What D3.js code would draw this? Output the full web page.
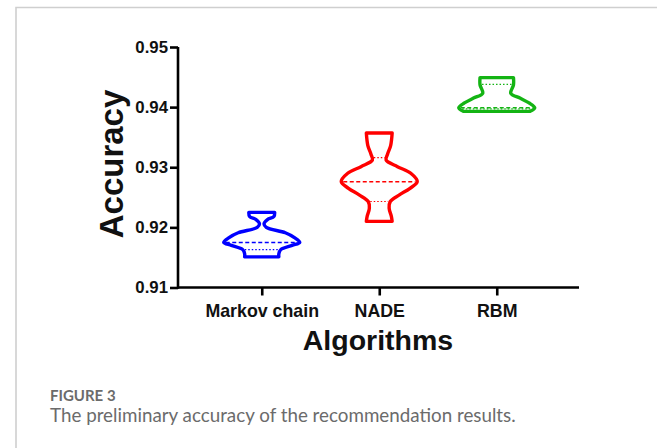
<!DOCTYPE html>
<html>
<head>
<meta charset="utf-8">
<script src="https://cdn.jsdelivr.net/npm/d3@7"></script>
<style>
  html, body { margin: 0; padding: 0; background: #fff; }
  svg { display: block; }
</style>
</head>
<body>
<svg id="chart" width="657" height="448"></svg>
<script>
// Algorithms compared
const algorithms = ["Markov chain", "NADE", "RBM"];
const colors = ["#0000ff", "#ff0000", "#14b414"];

// Density profiles (accuracy level, relative density 0..1), bottom to top
const markovProfile = [
  [0.9151, 0.45], [0.9156, 0.45], [0.9163, 0.50], [0.9170, 0.80], [0.9175, 1.00],
  [0.9183, 0.86], [0.9191, 0.62], [0.9200, 0.12], [0.9206, 0.06], [0.9213, 0.15],
  [0.9218, 0.32], [0.9225, 0.34]
];
const nadeProfile = [
  [0.9210, 0.34], [0.9218, 0.32], [0.9232, 0.26], [0.9243, 0.29], [0.9254, 0.53],
  [0.9265, 0.81], [0.9276, 1.00], [0.9290, 0.83], [0.9301, 0.48], [0.9312, 0.18],
  [0.9322, 0.22], [0.9336, 0.30], [0.9357, 0.34]
];
const rbmProfile = [
  [0.9393, 0.88], [0.9399, 1.00], [0.9407, 0.85], [0.9415, 0.61], [0.9423, 0.37],
  [0.9437, 0.44], [0.9449, 0.44]
];
const profiles = [markovProfile, nadeProfile, rbmProfile];

// Summary lines drawn inside each violin
const medians = [0.9175, 0.9276, 0.9399];
const lowerQuartiles = [0.9163, 0.9243, 0.9397];
const upperQuartiles = [null, 0.9316, 0.9438];

// Axis ticks
const yTicks = [0.91, 0.92, 0.93, 0.94, 0.95];

const svg = d3.select("#chart");

// Panel frame
svg.append("path")
  .attr("d", "M16,448 V7.5 H657")
  .attr("fill", "none")
  .attr("stroke", "#cfcfcf")
  .attr("stroke-width", 1.6);

const y = d3.scaleLinear().domain([0.91, 0.95]).range([287.5, 47]);
const x = d3.scalePoint().domain(algorithms).range([179.5, 579]).padding(0.7);
const halfWidth = d3.scaleLinear().domain([0, 1]).range([0, 38]);

const axisFont = "'Liberation Sans', Arial, sans-serif";

// Y axis
const yAxis = svg.append("g")
  .attr("transform", "translate(178,0)")
  .call(d3.axisLeft(y).tickValues(yTicks).tickFormat(d3.format(".2f")).tickSize(8).tickSizeOuter(0).tickPadding(2));

// X axis
const xAxis = svg.append("g")
  .attr("transform", "translate(0,287.5)")
  .call(d3.axisBottom(x).tickSize(8).tickSizeOuter(0).tickPadding(9));

[yAxis, xAxis].forEach(g => {
  g.select(".domain").attr("stroke", "#000").attr("stroke-width", 2.6);
  g.selectAll(".tick line").attr("stroke", "#000").attr("stroke-width", 2.6);
  g.selectAll(".tick text")
    .attr("fill", "#111")
    .style("font-family", axisFont)
    .style("font-weight", "bold")
    .style("font-size", "16.8px");
});
xAxis.selectAll(".tick text").style("font-size", "17.8px");
xAxis.select(".domain").attr("d", "M178,0H579");
yAxis.select(".domain").attr("d", "M0,288.8V47");

// Axis titles
svg.append("text")
  .attr("transform", "translate(123,164) rotate(-90)")
  .attr("text-anchor", "middle")
  .style("font-family", axisFont)
  .style("font-weight", "bold")
  .style("font-size", "33px")
  .attr("fill", "#111")
  .text("Accuracy");

svg.append("text")
  .attr("x", 378)
  .attr("y", 350)
  .attr("text-anchor", "middle")
  .style("font-family", axisFont)
  .style("font-weight", "bold")
  .style("font-size", "28.5px")
  .attr("fill", "#111")
  .text("Algorithms");

// Width of a violin at a given accuracy level
function widthAt(profile, v) {
  for (let i = 0; i < profile.length - 1; i++) {
    const [v0, d0] = profile[i], [v1, d1] = profile[i + 1];
    if (v >= v0 && v <= v1) return d0 + (d1 - d0) * (v - v0) / (v1 - v0);
  }
  return profile[profile.length - 1][1];
}

const violins = svg.append("g");
algorithms.forEach((name, i) => {
  const cx = x(name);
  const prof = profiles[i];
  const area = d3.area()
    .y(d => y(d[0]))
    .x0(d => cx - halfWidth(d[1]))
    .x1(d => cx + halfWidth(d[1]))
    .curve(d3.curveCatmullRom.alpha(0.5));

  const g = violins.append("g");

  const hline = (v, dash, sw) => {
    if (v == null) return;
    const hw = halfWidth(widthAt(prof, v)) - 2;
    g.append("line")
      .attr("x1", cx - hw).attr("x2", cx + hw)
      .attr("y1", y(v)).attr("y2", y(v))
      .attr("stroke", colors[i])
      .attr("stroke-width", sw)
      .attr("stroke-dasharray", dash);
  };
  hline(lowerQuartiles[i], "1.5,2", 1.2);
  hline(upperQuartiles[i], "1.5,2", 1.2);
  hline(medians[i], "4,2.5", 1.5);

  g.append("path")
    .attr("d", area(prof))
    .attr("fill", "none")
    .attr("stroke", colors[i])
    .attr("stroke-width", 3.4)
    .attr("stroke-linejoin", "round");
});

// Caption
const capFont = "Lato, 'Open Sans', sans-serif";
svg.append("text")
  .attr("x", 50).attr("y", 401)
  .style("font-family", capFont)
  .style("font-weight", "bold")
  .style("font-size", "15px")
  .attr("fill", "#6b6b6b")
  .text("FIGURE 3");
svg.append("text")
  .attr("x", 50).attr("y", 422)
  .style("font-family", capFont)
  .style("font-size", "18.8px")
  .attr("fill", "#6b6b6b")
  .text("The preliminary accuracy of the recommendation results.");
</script>
</body>
</html>
